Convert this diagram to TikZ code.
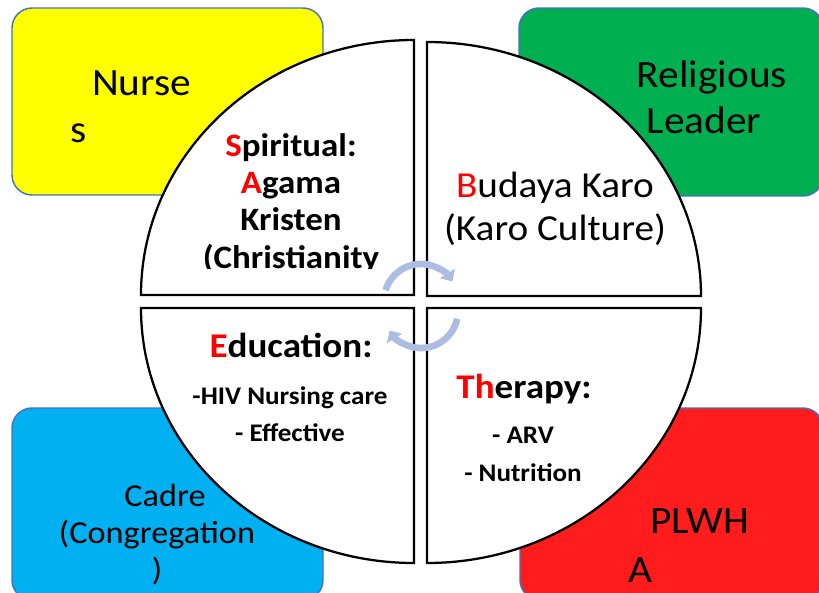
\documentclass[tikz,border=0pt]{standalone}
\usepackage{fontspec}
\setmainfont{Carlito}[FakeStretch=1.07]
\usetikzlibrary{arrows.meta}

\definecolor{nurseyellow}{RGB}{255,255,0}
\definecolor{leadergreen}{RGB}{0,176,80}
\definecolor{cadreblue}{RGB}{0,176,240}
\definecolor{plwhared}{RGB}{255,28,28}
\definecolor{edgeblue}{RGB}{68,114,196}
\definecolor{cyclecol}{RGB}{172,188,226}
\newcommand{\hl}[1]{\textcolor{red}{#1}}

\begin{document}
\begin{tikzpicture}[x=0.75pt,y=0.75pt,
  role/.style={draw=edgeblue,line width=1.1pt,rounded corners=15pt},
  quad/.style={draw=black,fill=white,line width=1.7pt},
  cyc/.style={draw=cyclecol,line width=5pt,-{Triangle[width=13pt,length=7pt]}},
  txt/.style={inner sep=0pt,anchor=base,align=center},
  head/.style={txt,font=\bfseries\fontsize{26}{32}\selectfont},
  item/.style={txt,font=\bfseries\fontsize{19}{27.75}\selectfont}]
  \useasboundingbox (0,0) rectangle (819,-593);
  \clip (0,0) rectangle (819,-593);

  % the four role boxes in the corners (anchored on the last baseline)
  \path[role,fill=nurseyellow] (12,-8) rectangle (323,-195);
  \path[role,fill=leadergreen] (519,-8) rectangle (823,-196);
  \path[role,fill=cadreblue] (12,-408) rectangle (323,-600);
  \path[role,fill=plwhared] (520,-408) rectangle (823,-600);

  \node[txt,align=left,anchor=base west,font=\fontsize{29}{35.25}\selectfont] (nurses) at (70,-142) {\hspace*{16.5pt}Nurse\\s};
  \node[txt,font=\fontsize{29}{34.5}\selectfont] (leader) at (712,-133) {Religious\\Leader\hspace*{12pt}};
  \node[txt,font=\fontsize{24}{27.5}\selectfont] (cadre) at (157,-580) {\hspace*{12pt}Cadre\\(Congregation\\)};
  \node[txt,align=left,anchor=base west,font=\fontsize{29}{36.75}\selectfont] (plwha) at (628,-582) {\hspace*{16.5pt}PLWH\\A};

  % split circle, one quarter per domain
  \path[quad] (414,-295) -- (141,-295) arc[start angle=180,end angle=90,x radius=273,y radius=255] -- cycle;
  \path[quad] (427,-296) -- (427,-42) arc[start angle=90,end angle=0,x radius=274,y radius=254] -- cycle;
  \path[quad] (414,-308) -- (414,-563) arc[start angle=270,end angle=180,x radius=273,y radius=255] -- cycle;
  \path[quad] (427,-308) -- (701,-308) arc[start angle=0,end angle=-90,x radius=274,y radius=255] -- cycle;

  % last line runs out of its text box
  \begin{scope}
    \clip (150,-100) rectangle (410,-268);
    \node[txt,font=\bfseries\fontsize{24.5}{28}\selectfont] (spirit) at (291,-268) {\hl{S}piritual:\\\hl{A}gama\\Kristen\\(Christianity};
  \end{scope}
  \node[txt,font=\fontsize{27.5}{32.25}\selectfont] (budaya) at (555,-240) {\hl{B}udaya Karo\\(Karo Culture)};
  \node[head] (edu) at (291,-357) {\hl{E}ducation:};
  \node[item] (eduitems) at (290,-441) {-HIV Nursing care\\- Effective};
  \node[head] (therapy) at (524,-398) {\hl{Th}erapy:};
  \node[item,font=\bfseries\fontsize{19}{28.5}\selectfont] (therapyitems) at (523,-481) {- ARV\\- Nutrition};

  % cycle arrows in the middle
  \coordinate (hubtop) at (421,-301);
  \coordinate (hubbot) at (421,-311);
  \draw[cyc] (hubtop) ++(163:37) arc[start angle=163,end angle=32,radius=37];
  \draw[cyc] (hubbot) ++(-12:37) arc[start angle=-12,end angle=-148,radius=37];
\end{tikzpicture}
\end{document}
